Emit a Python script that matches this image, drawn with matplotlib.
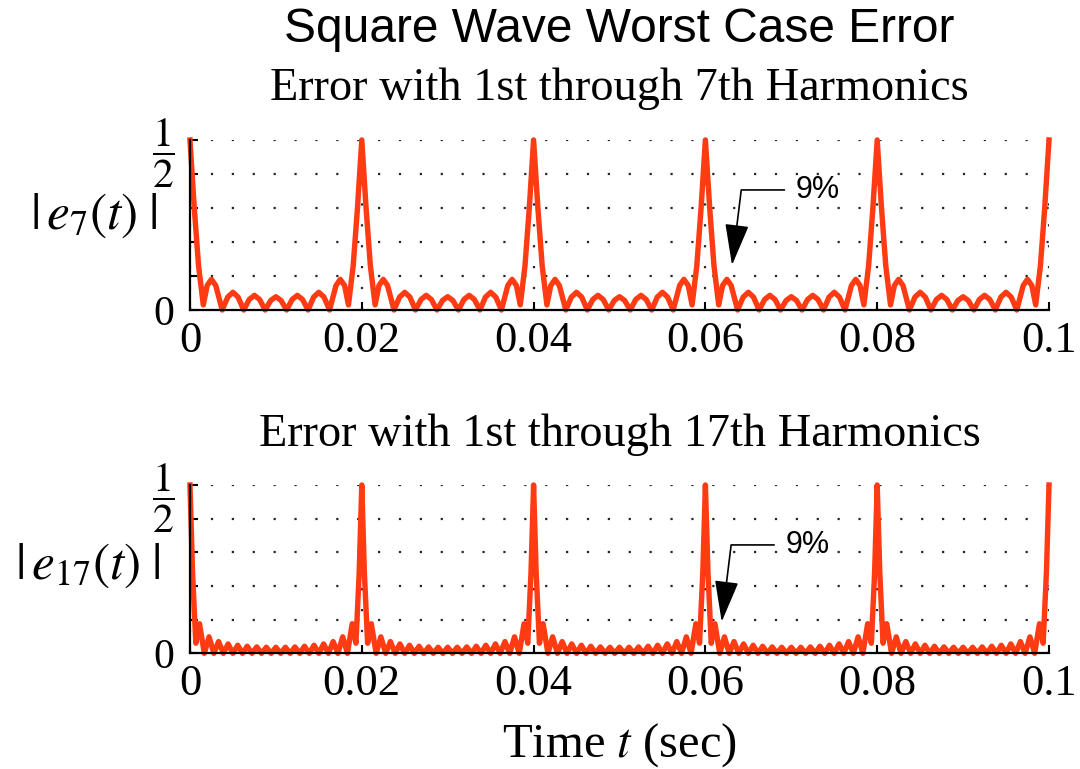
import matplotlib
matplotlib.use("Agg")
import matplotlib.pyplot as plt
import numpy as np

# one period (20 ms) of |e(t)|, times in ms
t7_ms = [0, 0.5, 1.0, 1.55, 2.0, 2.5, 3.0, 3.75, 4.4, 5.0, 5.6, 6.25, 6.9, 7.5, 8.1, 8.75, 9.4, 10.0,
         10.6, 11.25, 11.9, 12.5, 13.1, 13.75, 14.4, 15.0, 15.6, 16.25, 17.0, 17.5, 18.0, 18.45, 19.0, 19.5]
e7 = [0.5, 0.30, 0.13, 0.015, 0.072, 0.09, 0.072, 0.0, 0.038, 0.052, 0.038, 0.0, 0.031, 0.043, 0.031, 0.0, 0.028, 0.039,
      0.028, 0.0, 0.031, 0.043, 0.031, 0.0, 0.038, 0.052, 0.038, 0.0, 0.072, 0.09, 0.072, 0.015, 0.13, 0.30]

t17_ms = [0, 0.3, 0.68, 1.11, 1.67, 2.22, 2.78, 3.33, 3.89, 4.44, 5.0, 5.56, 6.11, 6.67, 7.22, 7.78, 8.33, 8.89, 9.44, 10.0,
          10.56, 11.11, 11.67, 12.22, 12.78, 13.33, 13.89, 14.44, 15.0, 15.56, 16.11, 16.67, 17.22, 17.78, 18.33, 18.89, 19.32, 19.7]
e17 = [0.5, 0.24, 0.03, 0.088, 0.0, 0.049, 0.0, 0.035, 0.0, 0.028, 0.0, 0.024, 0.0, 0.021, 0.0, 0.019, 0.0, 0.018, 0.0, 0.018,
       0.0, 0.018, 0.0, 0.019, 0.0, 0.021, 0.0, 0.024, 0.0, 0.028, 0.0, 0.035, 0.0, 0.049, 0.0, 0.088, 0.03, 0.24]

period_starts_ms = [0, 20, 40, 60, 80]
t_end_ms = 100
e_end = 0.5

xticks = [0, 0.02, 0.04, 0.06, 0.08, 0.1]
xticklabels = ["0", "0.02", "0.04", "0.06", "0.08", "0.1"]
yticks = [0, 0.1, 0.2, 0.3, 0.4, 0.5]
yticklabels = ["0", "", "", "", "", r"$\dfrac{1}{2}$"]

subtitles = ["Error with 1st through 7th Harmonics", "Error with 1st through 17th Harmonics"]
ylabels = [r"$|\,e_7(t)\;|$", r"$|\,e_{17}(t)\;|$"]


def build_series(t_ms, e):
    t = np.concatenate([np.array(t_ms) + s for s in period_starts_ms] + [[t_end_ms]]) / 1000.0
    v = np.concatenate([np.array(e) for s in period_starts_ms] + [[e_end]])
    return t, v


plt.rcParams["mathtext.fontset"] = "stix"
serif = "Liberation Serif"
sans = "Liberation Sans"
red = "#ff3b14"

fig = plt.figure(figsize=(10.8, 7.69), dpi=100)
ax1 = fig.add_axes([0.1759, 0.5969, 0.7954, 0.2211])
ax2 = fig.add_axes([0.1759, 0.1504, 0.7954, 0.2189])

series = [build_series(t7_ms, e7), build_series(t17_ms, e17)]
ylab_pos = [(-0.112, 0.56), (-0.119, 0.525)]
notes = [((0.0631, 0.132), (0.0705, 0.353)), ((0.0619, 0.094), (0.0693, 0.322))]

for i, ax in enumerate([ax1, ax2]):
    t, v = series[i]
    ax.plot(t, v, color=red, lw=3.9, clip_on=False, zorder=2, solid_joinstyle="round")
    ax.set_xlim(0, 0.1)
    ax.set_ylim(0, 0.5)
    ax.set_xticks(xticks)
    ax.set_xticklabels(xticklabels, family=serif, fontsize=32)
    ax.set_yticks(yticks)
    ax.set_yticklabels(yticklabels, family=serif, fontsize=30)
    ax.tick_params(direction="in", length=6, width=1.5)
    ax.tick_params(axis="x", pad=8)
    ax.tick_params(axis="y", pad=11)
    for side in ["top", "right"]:
        ax.spines[side].set_visible(False)
    for side in ["left", "bottom"]:
        ax.spines[side].set_linewidth(1.6)
    ax.grid(True, linestyle=(0, (1, 8.4)), color="0.15", lw=1.6)
    ax.set_axisbelow(True)

    ax.set_ylabel(ylabels[i], rotation=0, fontsize=37, va="center", ha="center")
    ax.yaxis.set_label_coords(*ylab_pos[i])

    ax.text(0.5, 1.3, subtitles[i], transform=ax.transAxes, ha="center", va="center",
            family=serif, fontsize=33.3)

    tip, txt = notes[i]
    ax.annotate("9%", xy=tip, xytext=txt, ha="left", va="center", family=sans, fontsize=22,
                arrowprops=dict(arrowstyle="-|>,head_length=2.6,head_width=0.75", mutation_scale=10,
                                connectionstyle="angle,angleA=0,angleB=83,rad=0",
                                color="black", lw=1.2, shrinkA=6, shrinkB=0))

fig.text(0.5736, 0.961, "Square Wave Worst Case Error", ha="center", va="center", family=sans, fontsize=34.5)
ax2.set_xlabel(r"Time $t$ (sec)", family=serif, fontsize=35, labelpad=12)

fig.savefig("out.png", dpi=100)
